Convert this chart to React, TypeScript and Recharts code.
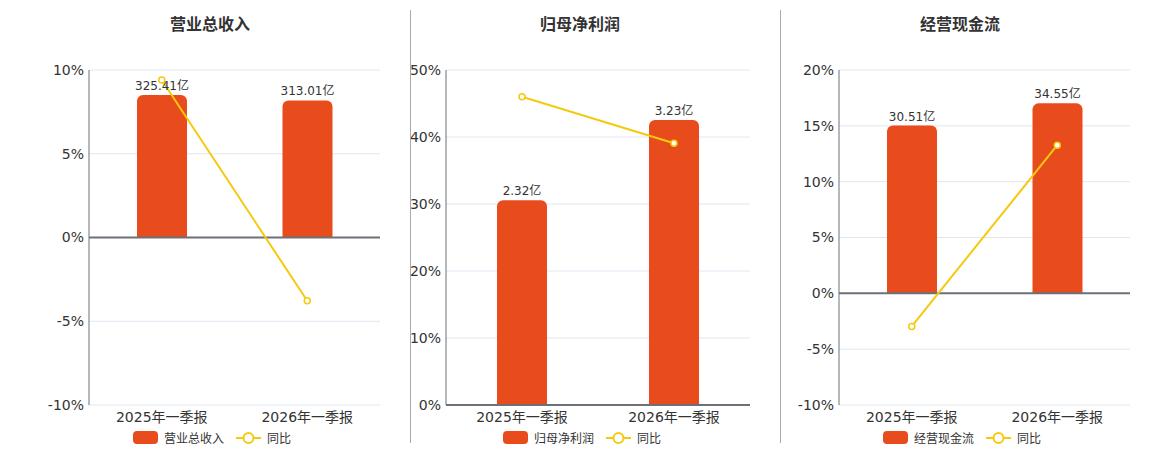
import React from 'react';
import {
  Bar,
  CartesianGrid,
  ComposedChart,
  LabelList,
  Line,
  ReferenceLine,
  XAxis,
  YAxis,
} from 'recharts';

// 三个小图：柱 = 金额（亿），线 = 同比 %
const periods = ['2025年一季报', '2026年一季报'];

const revenue = [325.41, 313.01];
const revenueYoy = [9.4, -3.78];
const revenueTicks = [-10, -5, 0, 5, 10];

const profit = [2.32, 3.23];
const profitYoy = [46.0, 39.06];
const profitTicks = [0, 10, 20, 30, 40, 50];

const cashflow = [30.51, 34.55];
const cashflowYoy = [-2.96, 13.27];
const cashflowTicks = [-10, -5, 0, 5, 10, 15, 20];

const BAR_COLOR = '#E84C1C';
const LINE_COLOR = '#F5C90F';
const FONT = '"DejaVu Sans", "Noto Sans CJK SC", sans-serif';

type PanelProps = {
  title: string;
  values: number[];
  yoy: number[];
  ticks: number[];
  barDomain: [number, number];
  left: number;
  width: number;
  axisWidth: number;
  marginRight: number;
  titleX: number;
  legendX: number;
};

function HollowDot(props: { cx?: number; cy?: number }) {
  const { cx, cy } = props;
  if (cx == null || cy == null) return null;
  return <circle cx={cx} cy={cy} r={3} fill="#fff" stroke={LINE_COLOR} strokeWidth={1.5} />;
}

function Panel(p: PanelProps) {
  const data = periods.map((name, i) => ({ name, value: p.values[i], yoy: p.yoy[i] }));
  const pctDomain: [number, number] = [p.ticks[0], p.ticks[p.ticks.length - 1]];

  return (
    <>
      <div
        style={{
          position: 'absolute',
          left: p.titleX - 100,
          top: 11,
          width: 200,
          textAlign: 'center',
          fontFamily: FONT,
          fontSize: 16,
          fontWeight: 'bold',
          color: '#333',
        }}
      >
        {p.title}
      </div>
      <div style={{ position: 'absolute', left: p.left, top: 0 }}>
        <ComposedChart
          width={p.width}
          height={450}
          data={data}
          margin={{ top: 70, right: p.marginRight, bottom: 15, left: 0 }}
          barCategoryGap="0%"
        >
          <CartesianGrid yAxisId="pct" vertical={false} stroke="#E0E6F1" />
          <XAxis
            dataKey="name"
            height={30}
            axisLine={false}
            tickLine={false}
            tickSize={0}
            tickMargin={7}
            tick={{ fontSize: 14, fill: '#333', fontFamily: FONT }}
          />
          <YAxis
            yAxisId="pct"
            width={p.axisWidth}
            domain={pctDomain}
            ticks={p.ticks}
            interval={0}
            tickFormatter={(v: number) => `${v}%`}
            axisLine={{ stroke: '#6E7079' }}
            tickLine={false}
            tickSize={0}
            tickMargin={5}
            tick={{ fontSize: 14, fill: '#333', fontFamily: FONT }}
            allowDataOverflow
          />
          <YAxis yAxisId="bar" orientation="right" hide domain={p.barDomain} allowDataOverflow />
          <ReferenceLine yAxisId="pct" y={0} stroke="#6E7079" strokeWidth={2} />
          <Bar
            yAxisId="bar"
            dataKey="value"
            fill={BAR_COLOR}
            barSize={50}
            radius={[6, 6, 0, 0]}
            isAnimationActive={false}
          >
            <LabelList
              dataKey="value"
              position="top"
              offset={5}
              formatter={(v: number) => `${v}亿`}
              style={{ fontSize: 12, fill: '#333', fontFamily: FONT }}
            />
          </Bar>
          <Line
            yAxisId="pct"
            dataKey="yoy"
            stroke={LINE_COLOR}
            strokeWidth={2}
            dot={<HollowDot />}
            activeDot={false}
            isAnimationActive={false}
          />
        </ComposedChart>
      </div>
      <div
        style={{
          position: 'absolute',
          left: p.legendX,
          top: 429,
          display: 'flex',
          alignItems: 'center',
          fontFamily: FONT,
          fontSize: 12,
          color: '#333',
          whiteSpace: 'nowrap',
        }}
      >
        <span style={{ width: 25, height: 13, borderRadius: 4, background: BAR_COLOR, display: 'inline-block' }} />
        <span style={{ marginLeft: 6 }}>{p.title}</span>
        <svg width={25} height={14} style={{ marginLeft: 12 }}>
          <line x1={0} y1={7} x2={25} y2={7} stroke={LINE_COLOR} strokeWidth={2} />
          <circle cx={12.5} cy={7} r={5} fill="#fff" stroke={LINE_COLOR} strokeWidth={2} />
        </svg>
        <span style={{ marginLeft: 6 }}>同比</span>
      </div>
    </>
  );
}

export default function App() {
  return (
    <div style={{ position: 'absolute', left: 0, top: 0, width: 1160, height: 450, background: '#fff' }}>
      <Panel
        title="营业总收入"
        values={revenue}
        yoy={revenueYoy}
        ticks={revenueTicks}
        barDomain={[-382.4, 382.4]}
        left={0}
        width={410}
        axisWidth={89}
        marginRight={30}
        titleX={210}
        legendX={133}
      />
      <Panel
        title="归母净利润"
        values={profit}
        yoy={profitYoy}
        ticks={profitTicks}
        barDomain={[0, 3.797]}
        left={410}
        width={370}
        axisWidth={36}
        marginRight={30}
        titleX={580}
        legendX={503}
      />
      <Panel
        title="经营现金流"
        values={cashflow}
        yoy={cashflowYoy}
        ticks={cashflowTicks}
        barDomain={[-20.31, 40.62]}
        left={780}
        width={380}
        axisWidth={59}
        marginRight={30}
        titleX={960}
        legendX={883}
      />
      <div style={{ position: 'absolute', left: 410, top: 10, width: 1, height: 433, background: '#aaa' }} />
      <div style={{ position: 'absolute', left: 780, top: 10, width: 1, height: 433, background: '#aaa' }} />
    </div>
  );
}
